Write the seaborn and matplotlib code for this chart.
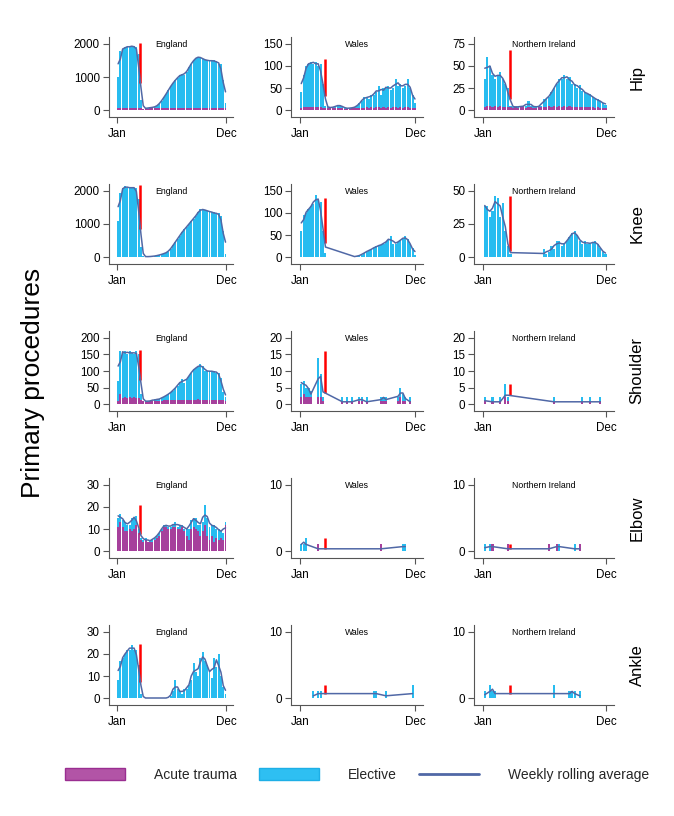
import numpy as np
import pandas as pd
import matplotlib
matplotlib.use("Agg")
import matplotlib.pyplot as plt
import seaborn as sns
from matplotlib.patches import Patch
from matplotlib.lines import Line2D

# ---------------------------------------------------------------- data
COUNTRIES = ["England", "Wales", "Northern Ireland"]
PROCEDURES = ["Hip", "Knee", "Shoulder", "Elbow", "Ankle"]
SERIES = ["Acute trauma", "Elective"]
MONTH_LABELS = ["Jan", "Dec"]
MONTH_DAYS = [1, 335]
LOCKDOWN_DAY = 73
N_WEEKS = 48
Y_LABEL = "Primary procedures"
LEGEND_LINE = "Weekly rolling average"

# weekly values (week 0 starts 1 Jan); dense panels as lists, sparse panels as {week: count}
HIP_ENG_EL = [950, 1730, 1780, 1825, 1830, 1875, 1830, 1880, 1825, 1630, 250, 0, 5, 15, 20, 30,
              40, 65, 125, 220, 320, 420, 535, 660, 760, 835, 920, 985, 1040, 985, 1090, 1235,
              1340, 1435, 1520, 1555, 1540, 1485, 1460, 1435, 1440, 1420, 1435, 1420, 1340, 1340, 845, 150]
HIP_ENG_TR = [50, 70, 70, 75, 70, 75, 70, 70, 75, 70, 50, 40, 45, 45, 50, 50, 50, 55, 55, 60, 60, 60,
              65, 60, 60, 65, 60, 65, 60, 65, 60, 65, 60, 65, 60, 65, 60, 65, 60, 65, 60, 60, 65, 60,
              60, 60, 55, 50]
HIP_WAL_EL = [36, 74, 94, 98, 104, 99, 103, 94, 99, 55, 6, 2, 1, 2, 4, 5, 7, 4, 1, 1, 1, 1, 2, 4, 10,
              15, 25, 24, 20, 29, 30, 34, 49, 30, 44, 45, 49, 40, 44, 64, 50, 54, 45, 49, 64, 45, 30, 11]
HIP_WAL_TR = [4, 6, 6, 7, 6, 6, 7, 6, 6, 5, 4, 4, 4, 4, 4, 5, 5, 4, 3, 3, 3, 4, 4, 4, 5, 5, 5, 6, 5, 6,
              5, 6, 6, 5, 6, 5, 6, 5, 6, 6, 5, 6, 5, 6, 6, 5, 5, 4]
HIP_NI_EL = [32, 56, 45, 37, 31, 37, 39, 32, 27, 22, 2, 1, 1, 1, 1, 2, 2, 7, 2, 2, 1, 1, 2, 9, 9, 11,
             17, 21, 27, 31, 32, 36, 32, 34, 27, 27, 22, 25, 19, 17, 15, 15, 12, 10, 9, 8, 6, 4]
HIP_NI_TR = [3, 4, 5, 3, 4, 3, 4, 3, 3, 3, 3, 2, 3, 2, 3, 3, 2, 3, 3, 2, 2, 3, 3, 3, 3, 4, 3, 4, 3, 4,
             3, 4, 3, 4, 3, 3, 3, 3, 3, 3, 3, 3, 3, 2, 3, 2, 2, 2]

KNEE_ENG_EL = [1100, 1950, 2100, 2150, 2100, 2100, 2100, 2100, 2100, 1750, 300, 20, 10, 10, 15, 20,
               30, 40, 60, 80, 100, 130, 160, 250, 350, 450, 550, 650, 750, 850, 900, 1000, 1100,
               1150, 1250, 1350, 1450, 1450, 1420, 1400, 1380, 1350, 1350, 1300, 1320, 1250, 800, 100]
KNEE_ENG_TR = {}
KNEE_WAL_EL = [60, 95, 100, 110, 115, 120, 140, 130, 125, 60, 8, 0, 0, 0, 0, 0, 0, 0, 0, 0, 0, 0, 1,
               2, 3, 5, 10, 12, 15, 18, 20, 25, 25, 28, 30, 35, 38, 48, 30, 30, 35, 38, 42, 48, 40, 30, 20, 5]
KNEE_WAL_TR = {}
KNEE_NI_EL = [39, 39, 30, 35, 46, 45, 30, 41, 20, 8, 2, 0, 0, 0, 0, 0, 0, 0, 0, 0, 0, 0, 0, 6, 2, 4,
              8, 6, 12, 12, 8, 10, 12, 15, 18, 20, 17, 12, 10, 12, 10, 10, 11, 12, 10, 7, 4, 2]
KNEE_NI_TR = {}

SHO_ENG_EL = [60, 130, 137, 140, 132, 140, 137, 130, 142, 132, 18, 2, 1, 1, 2, 2, 5, 3, 5, 8, 10, 13,
              18, 23, 28, 38, 43, 53, 62, 53, 62, 73, 82, 93, 97, 98, 107, 103, 87, 88, 87, 86, 87,
              83, 82, 68, 23, 10]
SHO_ENG_TR = [10, 30, 18, 20, 18, 20, 18, 20, 18, 18, 12, 8, 7, 7, 8, 8, 10, 9, 10, 10, 12, 12, 12,
              12, 12, 12, 12, 12, 13, 12, 13, 12, 13, 12, 13, 14, 13, 12, 13, 12, 13, 12, 13, 12, 13,
              12, 12, 10]
SHO_WAL_EL = {0: 4, 1: 4, 2: 3, 3: 3, 4: 2, 7: 12, 8: 7, 9: 1, 17: 1, 19: 1, 21: 1, 24: 1, 25: 1,
              27: 1, 33: 1, 34: 1, 35: 1, 40: 1, 41: 3, 42: 2, 43: 1, 45: 1}
SHO_WAL_TR = {0: 2, 1: 3, 2: 2, 3: 2, 4: 2, 7: 2, 8: 2, 9: 1, 17: 1, 19: 1, 21: 1, 24: 1, 25: 1,
              27: 1, 33: 1, 34: 1, 35: 1, 40: 1, 41: 2, 42: 1, 43: 1, 45: 1}
SHO_NI_EL = {0: 1, 3: 1, 6: 1, 8: 4, 9: 1, 27: 1, 38: 1, 41: 1, 45: 1}
SHO_NI_TR = {0: 1, 3: 1, 6: 1, 8: 2, 9: 1, 27: 1, 38: 1, 41: 1, 45: 1}

ELB_ENG_EL = [4, 4, 3, 4, 3, 2, 6, 5, 4, 2, 1, 1, 1, 0, 1, 1, 1, 1, 1, 1, 1, 1, 1, 1, 1, 2, 1, 2, 1,
              1, 3, 5, 4, 4, 5, 3, 5, 4, 9, 8, 6, 5, 8, 4, 5, 3, 3, 1]
ELB_ENG_TR = [11, 13, 11, 9, 9, 10, 9, 10, 12, 8, 5, 4, 5, 4, 4, 4, 5, 6, 7, 9, 11, 11, 10, 10, 11,
              11, 10, 10, 11, 9, 7, 5, 10, 11, 10, 9, 7, 9, 12, 7, 5, 7, 4, 6, 5, 6, 5, 12]
ELB_WAL_EL = {0: 1, 1: 1, 2: 2, 42: 1, 43: 1}
ELB_WAL_TR = {7: 1, 33: 1}
ELB_NI_EL = {0: 1, 2: 1, 29: 1, 35: 1}
ELB_NI_TR = {3: 1, 9: 1, 25: 1, 28: 1, 37: 1}

ANK_ENG_EL = [8, 17, 18, 20, 22, 22, 24, 22, 22, 15, 2, 0, 0, 0, 0, 0, 0, 0, 0, 0, 0, 0, 0, 1, 3, 8,
              4, 3, 2, 4, 4, 6, 8, 16, 12, 10, 18, 21, 17, 15, 12, 9, 18, 14, 20, 10, 5, 2]
ANK_ENG_TR = {}
ANK_WAL_EL = {5: 1, 7: 1, 8: 1, 30: 1, 31: 1, 35: 1, 46: 2}
ANK_WAL_TR = {}
ANK_NI_EL = {0: 1, 2: 2, 3: 1, 4: 1, 27: 2, 33: 1, 34: 1, 35: 1, 37: 1}
ANK_NI_TR = {}

ELECTIVE = {
    ("Hip", "England"): HIP_ENG_EL, ("Hip", "Wales"): HIP_WAL_EL, ("Hip", "Northern Ireland"): HIP_NI_EL,
    ("Knee", "England"): KNEE_ENG_EL, ("Knee", "Wales"): KNEE_WAL_EL, ("Knee", "Northern Ireland"): KNEE_NI_EL,
    ("Shoulder", "England"): SHO_ENG_EL, ("Shoulder", "Wales"): SHO_WAL_EL, ("Shoulder", "Northern Ireland"): SHO_NI_EL,
    ("Elbow", "England"): ELB_ENG_EL, ("Elbow", "Wales"): ELB_WAL_EL, ("Elbow", "Northern Ireland"): ELB_NI_EL,
    ("Ankle", "England"): ANK_ENG_EL, ("Ankle", "Wales"): ANK_WAL_EL, ("Ankle", "Northern Ireland"): ANK_NI_EL,
}
TRAUMA = {
    ("Hip", "England"): HIP_ENG_TR, ("Hip", "Wales"): HIP_WAL_TR, ("Hip", "Northern Ireland"): HIP_NI_TR,
    ("Knee", "England"): KNEE_ENG_TR, ("Knee", "Wales"): KNEE_WAL_TR, ("Knee", "Northern Ireland"): KNEE_NI_TR,
    ("Shoulder", "England"): SHO_ENG_TR, ("Shoulder", "Wales"): SHO_WAL_TR, ("Shoulder", "Northern Ireland"): SHO_NI_TR,
    ("Elbow", "England"): ELB_ENG_TR, ("Elbow", "Wales"): ELB_WAL_TR, ("Elbow", "Northern Ireland"): ELB_NI_TR,
    ("Ankle", "England"): ANK_ENG_TR, ("Ankle", "Wales"): ANK_WAL_TR, ("Ankle", "Northern Ireland"): ANK_NI_TR,
}
# top of the lockdown marker per panel (row-major: procedure x country)
LOCKDOWN_TOP = [[2020, 116, 68], [2180, 135, 46], [164, 16, 6], [21, 2, 1], [24.5, 2, 2]]
# y ticks per panel
YTICKS = [
    [[0, 1000, 2000], [0, 50, 100, 150], [0, 25, 50, 75]],
    [[0, 1000, 2000], [0, 50, 100, 150], [0, 25, 50]],
    [[0, 50, 100, 150, 200], [0, 5, 10, 15, 20], [0, 5, 10, 15, 20]],
    [[0, 10, 20, 30], [0, 10], [0, 10]],
    [[0, 10, 20, 30], [0, 10], [0, 10]],
]


def weekly(values):
    if isinstance(values, dict):
        arr = np.zeros(N_WEEKS)
        for w, v in values.items():
            arr[w] = v
        return arr
    return np.asarray(values, dtype=float)


# ---------------------------------------------------------------- style
sns.set_theme(style="ticks")
plt.rcParams["font.family"] = ["Liberation Sans", "DejaVu Sans"]

TRAUMA_C = "#A6409C"
ELECTIVE_C = "#27BCF0"
LINE_C = "#5068A6"
AXIS_C = "#555555"
PALETTE = {"Acute trauma": TRAUMA_C, "Elective": ELECTIVE_C}

W, H = 674, 816
fig = plt.figure(figsize=(W / 100, H / 100), dpi=100, facecolor="white")

COL_X = [(108.8, 233.2), (291.4, 423.1), (474.3, 614.1)]
ROW_Y = [(37, 117), (184, 264), (331, 411), (478, 558), (625, 705)]
BIN_START = 1
BIN_WIDTH = 7
CENTRES = BIN_START + BIN_WIDTH * np.arange(N_WEEKS) + BIN_WIDTH / 2


def px_rect(l, r, t, b):
    return [l / W, 1 - b / H, (r - l) / W, (b - t) / H]


for i, proc in enumerate(PROCEDURES):
    for j, country in enumerate(COUNTRIES):
        el = weekly(ELECTIVE[(proc, country)])
        tr = weekly(TRAUMA[(proc, country)])
        ax = fig.add_axes(px_rect(COL_X[j][0], COL_X[j][1], ROW_Y[i][0], ROW_Y[i][1]))
        df = pd.DataFrame({
            "day": np.concatenate([CENTRES, CENTRES]),
            "count": np.concatenate([tr, el]),
            "type": [SERIES[0]] * N_WEEKS + [SERIES[1]] * N_WEEKS,
        })
        sns.histplot(data=df, x="day", weights="count", hue="type",
                     hue_order=["Elective", "Acute trauma"], multiple="stack",
                     binwidth=BIN_WIDTH,
                     binrange=(BIN_START, BIN_START + BIN_WIDTH * N_WEEKS),
                     shrink=0.85, palette=PALETTE, alpha=1,
                     linewidth=0, legend=False, ax=ax, zorder=1)
        total = el + tr
        roll = pd.Series(total).rolling(3, center=True, min_periods=1).mean().to_numpy()
        mask = np.ones(N_WEEKS, bool) if country == "England" else total > 0
        sns.lineplot(x=CENTRES[mask], y=roll[mask], color=LINE_C, linewidth=1.1,
                     ax=ax, zorder=3)
        red_low = np.interp(LOCKDOWN_DAY, CENTRES[mask], roll[mask])
        ax.vlines(LOCKDOWN_DAY, red_low, LOCKDOWN_TOP[i][j], color="#FF0000",
                  linewidth=1.8, zorder=2.5)

        ticks = YTICKS[i][j]
        top = ticks[-1]
        ax.set_ylim(-0.106 * top, 1.106 * top)
        ax.set_xlim(-24, 357)
        ax.set_yticks(ticks)
        ax.set_yticklabels([str(t) for t in ticks])
        ax.set_xticks(MONTH_DAYS)
        ax.set_xticklabels(MONTH_LABELS)
        ax.set_xlabel("")
        ax.set_ylabel("")
        ax.tick_params(axis="both", direction="out", length=4.5, width=0.8,
                       color=AXIS_C, labelsize=8.4, labelcolor="black")
        ax.tick_params(axis="x", pad=3.5)
        ax.tick_params(axis="y", pad=2)
        for s in ["top", "right"]:
            ax.spines[s].set_visible(False)
        for s in ["left", "bottom"]:
            ax.spines[s].set_color(AXIS_C)
            ax.spines[s].set_linewidth(0.8)
        ax.set_facecolor("white")
        ax.text(0.5, 0.91, country, transform=ax.transAxes, ha="center",
                va="center", fontsize=6.3, color="black")

    yc = (ROW_Y[i][0] + ROW_Y[i][1]) / 2
    fig.text(637 / W, 1 - yc / H, proc, rotation=90, ha="center", va="center",
             fontsize=12, color="black")

fig.text(33 / W, 1 - 383 / H, Y_LABEL, rotation=90, ha="center", va="center",
         fontsize=19, color="black")

handles = [
    Patch(facecolor="#B254A6", edgecolor="#9A2E91", linewidth=1),
    Patch(facecolor="#2EBFF2", edgecolor="#1EAFE6", linewidth=1),
    Line2D([0], [0], color=LINE_C, linewidth=2),
]
fig.legend(handles, SERIES + [LEGEND_LINE], loc="center",
           bbox_to_anchor=(357 / W, 1 - 775 / H), ncol=3, frameon=False,
           fontsize=10, handlelength=4.3, handleheight=0.9, handletextpad=2.1,
           columnspacing=1.6)

fig.savefig("out.png", dpi=100, facecolor="white")
